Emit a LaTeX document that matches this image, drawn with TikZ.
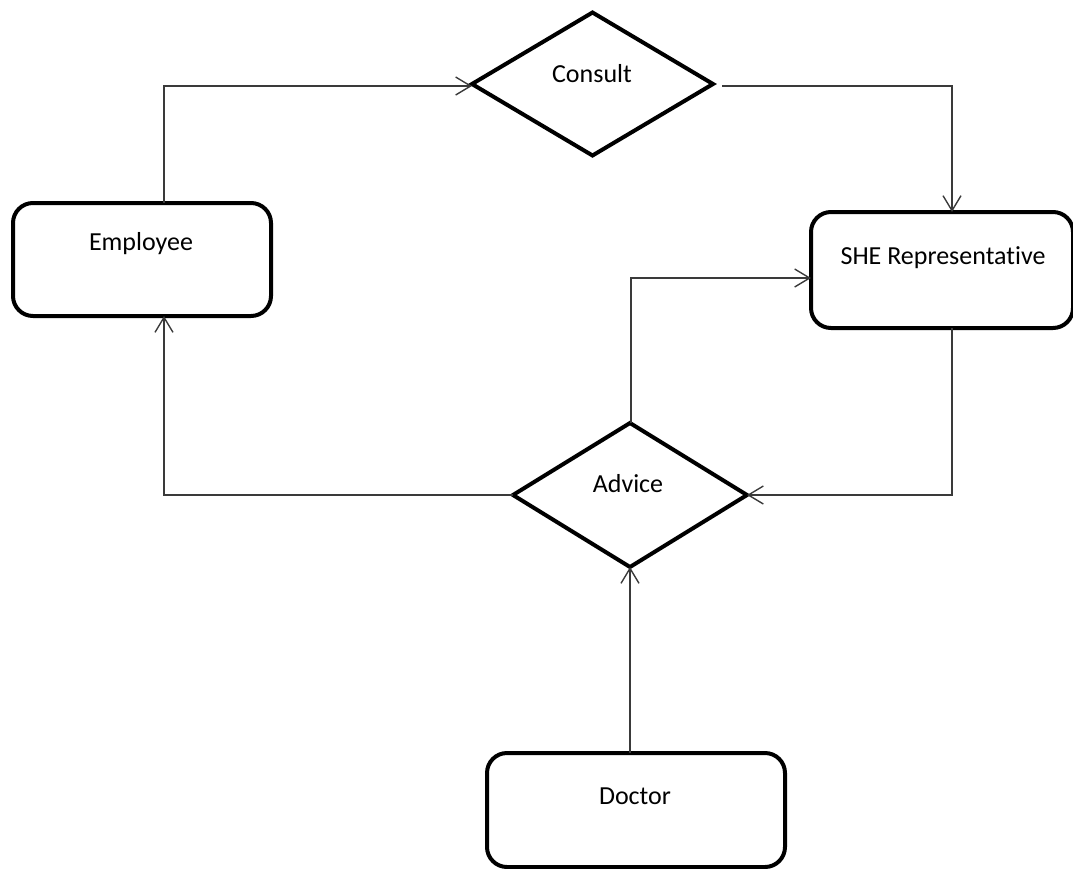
\documentclass[tikz,border=0pt]{standalone}
\usepackage{fontspec}
\setmainfont{Carlito}[Ligatures=NoCommon]
\usetikzlibrary{arrows.meta,shapes.geometric}
\definecolor{conncol}{HTML}{3A3A3A}
\begin{document}
\begin{tikzpicture}[x=1pt,y=-1pt,
  shapebase/.style={draw=black, line width=4pt, fill=white, outer sep=0pt, inner sep=0pt},
  box/.style={shapebase, rectangle, rounded corners=20pt},
  decision/.style={shapebase, diamond},
  txt/.style={font=\fontsize{26}{31}\selectfont, text=black, inner sep=0pt},
  conn/.style={draw=conncol, line width=1.4pt, -{Straight Barb[length=15pt,width=18pt,line width=1.4pt]}},
  plain/.style={draw=conncol, line width=1.4pt}]
\useasboundingbox (0,0) rectangle (1073,868);
% shapes
\node[decision, minimum width=241pt, minimum height=143pt, aspect=1.685] (consult) at (592.5,84) {};
\node[decision, minimum width=234pt, minimum height=144pt, aspect=1.625] (advice) at (630,495) {};
\node[box, minimum width=258pt, minimum height=113pt] (emp) at (142,259.5) {};
\node[box, minimum width=262pt, minimum height=116pt] (she) at (942,270) {};
\node[box, minimum width=298pt, minimum height=114pt] (doc) at (636,810) {};
% texts
\node[txt] (consultt) at (592,74) {Consult};
\node[txt] (advicet) at (628,484) {Advice};
\node[txt] (empt) at (141,244) {Employee};
\node[txt] (shet) at (943,258) {SHE Representative};
\node[txt] (doct) at (635,796) {Doctor};
% connectors
\draw[conn] ([xshift=22pt]emp.north) |- ([yshift=-2pt]consult.west);
\draw[conn] ([xshift=9pt,yshift=-2pt]consult.east) -| ([xshift=10pt]she.north);
\draw[conn] ([xshift=1pt]advice.north) |- ([yshift=-8pt]she.west);
\draw[conn] ([xshift=10pt]she.south) |- (advice.east);
\draw[conn] (advice.west) -| ([xshift=22pt]emp.south);
\draw[conn] (doc.north -| advice.south) -- (advice.south);
\end{tikzpicture}
\end{document}
